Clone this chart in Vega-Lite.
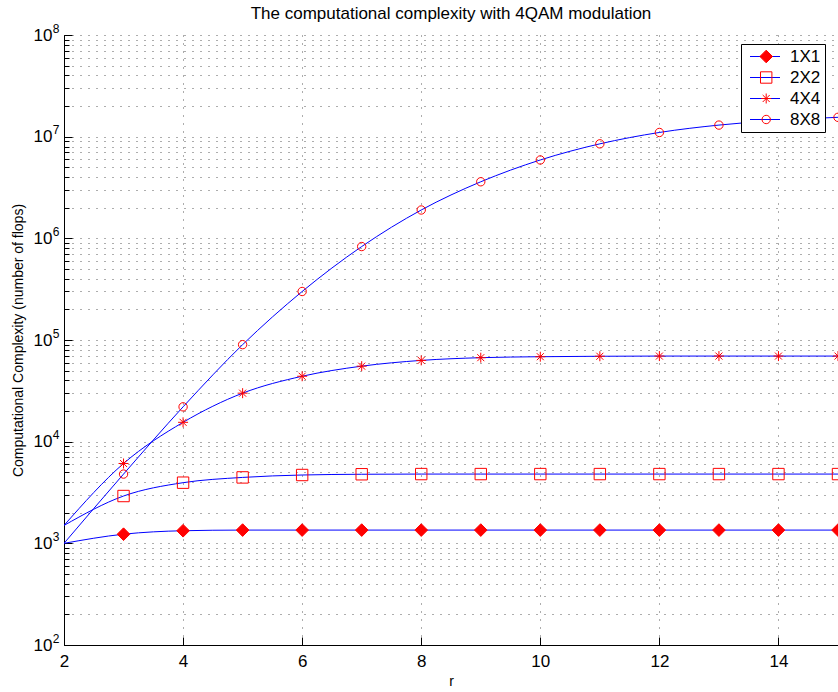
{
  "$schema": "https://vega.github.io/schema/vega-lite/v6.json",
  "width": 774,
  "height": 610,
  "autosize": {"type": "none"},
  "padding": {"left": 64, "top": 35, "right": 0, "bottom": 47},
  "background": "white",
  "config": {"view": {"stroke": null}, "font": "Liberation Sans"},
  "title": {"text": "The computational complexity with 4QAM modulation", "fontSize": 17, "fontWeight": "normal", "offset": -0.5, "color": "black", "anchor": "middle", "font": "Liberation Sans"},
  "data": {"values": [
    {"r": 2, "series": "1X1", "v": 1000}, {"r": 3, "series": "1X1", "v": 1230}, {"r": 4, "series": "1X1", "v": 1330}, {"r": 5, "series": "1X1", "v": 1350}, {"r": 6, "series": "1X1", "v": 1350}, {"r": 7, "series": "1X1", "v": 1350}, {"r": 8, "series": "1X1", "v": 1350}, {"r": 9, "series": "1X1", "v": 1350}, {"r": 10, "series": "1X1", "v": 1350}, {"r": 11, "series": "1X1", "v": 1350}, {"r": 12, "series": "1X1", "v": 1350}, {"r": 13, "series": "1X1", "v": 1350}, {"r": 14, "series": "1X1", "v": 1350}, {"r": 15, "series": "1X1", "v": 1350},
    {"r": 2, "series": "2X2", "v": 1500}, {"r": 3, "series": "2X2", "v": 2920}, {"r": 4, "series": "2X2", "v": 3950}, {"r": 5, "series": "2X2", "v": 4450}, {"r": 6, "series": "2X2", "v": 4700}, {"r": 7, "series": "2X2", "v": 4780}, {"r": 8, "series": "2X2", "v": 4800}, {"r": 9, "series": "2X2", "v": 4800}, {"r": 10, "series": "2X2", "v": 4800}, {"r": 11, "series": "2X2", "v": 4800}, {"r": 12, "series": "2X2", "v": 4800}, {"r": 13, "series": "2X2", "v": 4800}, {"r": 14, "series": "2X2", "v": 4800}, {"r": 15, "series": "2X2", "v": 4800},
    {"r": 2, "series": "4X4", "v": 1500}, {"r": 3, "series": "4X4", "v": 6100}, {"r": 4, "series": "4X4", "v": 15500}, {"r": 5, "series": "4X4", "v": 30000}, {"r": 6, "series": "4X4", "v": 44000}, {"r": 7, "series": "4X4", "v": 55300}, {"r": 8, "series": "4X4", "v": 63000}, {"r": 9, "series": "4X4", "v": 67000}, {"r": 10, "series": "4X4", "v": 68500}, {"r": 11, "series": "4X4", "v": 69200}, {"r": 12, "series": "4X4", "v": 69500}, {"r": 13, "series": "4X4", "v": 69500}, {"r": 14, "series": "4X4", "v": 69500}, {"r": 15, "series": "4X4", "v": 69500},
    {"r": 2, "series": "8X8", "v": 1000}, {"r": 3, "series": "8X8", "v": 4800}, {"r": 4, "series": "8X8", "v": 22000}, {"r": 5, "series": "8X8", "v": 90000}, {"r": 6, "series": "8X8", "v": 300000}, {"r": 7, "series": "8X8", "v": 830000}, {"r": 8, "series": "8X8", "v": 1900000}, {"r": 9, "series": "8X8", "v": 3600000}, {"r": 10, "series": "8X8", "v": 5900000}, {"r": 11, "series": "8X8", "v": 8500000}, {"r": 12, "series": "8X8", "v": 11000000}, {"r": 13, "series": "8X8", "v": 13000000}, {"r": 14, "series": "8X8", "v": 14500000}, {"r": 15, "series": "8X8", "v": 15500000}
  ]},
  "encoding": {
    "x": {"field": "r", "type": "quantitative",
      "scale": {"domain": [2, 15], "nice": false, "zero": false},
      "axis": {"values": [2, 4, 6, 8, 10, 12, 14], "title": "r", "grid": true, "gridDash": [1, 7], "gridColor": "#333", "gridOpacity": 0.8,
        "tickSize": -8, "tickColor": "black", "domainColor": "black", "labelPadding": 16.5, "labelFontSize": 17, "labelColor": "black", "labelFont": "Liberation Sans",
        "titleFontSize": 14, "titleFontWeight": "normal", "titleColor": "black", "titleFont": "Liberation Sans", "titlePadding": 4.5, "labelFlush": false}}
  },
  "resolve": {"axis": {"y": "independent"}},
  "layer": [
    {"mark": {"type": "line", "strokeWidth": 1, "interpolate": "monotone", "clip": true},
     "encoding": {
       "y": {"field": "v", "type": "quantitative",
         "scale": {"type": "log", "domain": [100, 100000000], "nice": false},
         "axis": {"orient": "left", "values": [100,200,300,400,500,600,700,800,900,1000,2000,3000,4000,5000,6000,7000,8000,9000,10000,20000,30000,40000,50000,60000,70000,80000,90000,100000,200000,300000,400000,500000,600000,700000,800000,900000,1000000,2000000,3000000,4000000,5000000,6000000,7000000,8000000,9000000,10000000,20000000,30000000,40000000,50000000,60000000,70000000,80000000,90000000,100000000],
           "labelExpr": "datum.value==100?'2':datum.value==1000?'3':datum.value==10000?'4':datum.value==100000?'5':datum.value==1000000?'6':datum.value==10000000?'7':datum.value==100000000?'8':''",
           "title": null, "grid": true, "gridDash": [1, 7], "gridColor": "#333", "gridOpacity": 0.8,
           "tickSize": -5, "tickColor": "black", "domainColor": "black", "labelPadding": 10, "labelFontSize": 12, "labelBaseline": "bottom", "labelColor": "black", "labelFont": "Liberation Sans",
           "labelFlush": false, "labelOverlap": false}},
       "color": {"field": "series", "type": "nominal", "scale": {"range": ["#0000ff", "#0000ff", "#0000ff", "#0000ff"]},
         "legend": {"orient": "none", "legendX": 677, "legendY": 9, "title": null, "symbolType": "M-2,0L2,0", "symbolSize": 225, "symbolStrokeWidth": 1, "symbolStrokeColor": "#0000ff",
           "labelFontSize": 17, "labelColor": "black", "labelFont": "Liberation Sans", "strokeColor": "black", "fillColor": "white", "padding": 4, "rowPadding": 3, "symbolOffset": 11.5, "labelOffset": 16.5}}
     }},
    {"transform": [{"filter": "datum.r >= 3"}],
     "mark": {"type": "point", "strokeWidth": 1, "opacity": 1},
     "encoding": {
       "y": {"field": "v", "type": "quantitative",
         "axis": {"orient": "left", "values": [100, 1000, 10000, 100000, 1000000, 10000000, 100000000], "labelExpr": "'10'",
           "title": "Computational Complexity (number of flops)", "grid": false, "ticks": true, "tickSize": -8, "tickColor": "black", "domain": false,
           "labelPadding": 20, "labelFontSize": 17, "labelColor": "black", "labelFont": "Liberation Sans",
           "titleFontSize": 14, "titleFontWeight": "normal", "titleColor": "black", "titleFont": "Liberation Sans", "titlePadding": 8, "labelFlush": false, "labelOverlap": false}},
       "stroke": {"value": "#ff0000"},
       "shape": {"field": "series", "type": "nominal",
         "scale": {"range": ["diamond", "square", "M-1,0L1,0M0,-1L0,1M-0.7,-0.7L0.7,0.7M-0.7,0.7L0.7,-0.7", "circle"]},
         "legend": {"orient": "none", "legendX": 689.7, "legendY": 9, "title": null, "symbolStrokeColor": "#ff0000", "symbolStrokeWidth": 1,
           "labelFontSize": 17, "labelOpacity": 0, "padding": 4, "rowPadding": 3, "labelOffset": 8}},
       "fill": {"field": "series", "type": "nominal", "scale": {"range": ["#ff0000", "transparent", "transparent", "transparent"]}},
       "size": {"field": "series", "type": "nominal", "scale": {"range": [160, 70, 110, 121]}}
     }}
  ]
}
